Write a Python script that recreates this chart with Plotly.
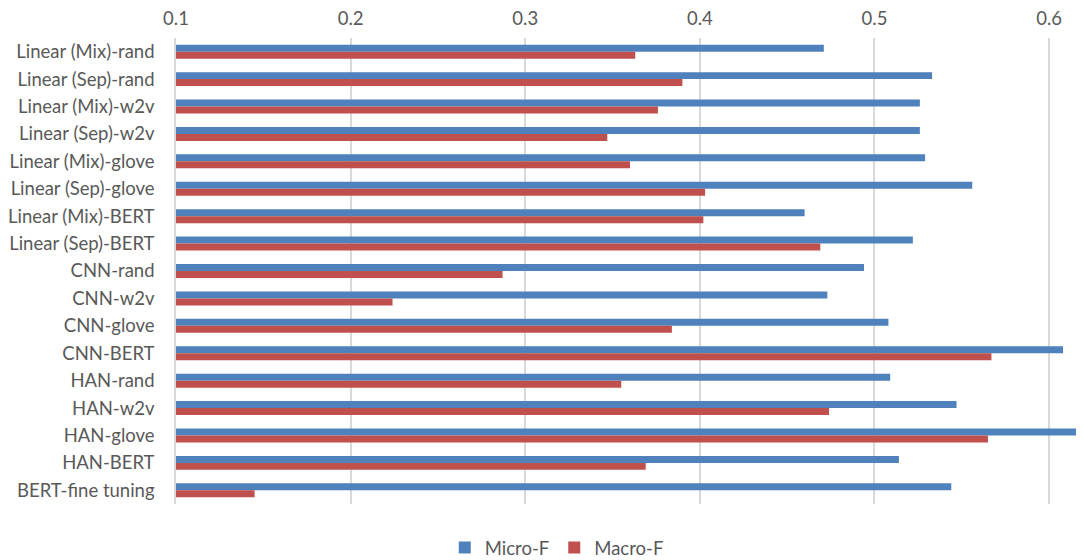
import plotly.graph_objects as go

categories = [
    "Linear (Mix)-rand", "Linear (Sep)-rand", "Linear (Mix)-w2v", "Linear (Sep)-w2v",
    "Linear (Mix)-glove", "Linear (Sep)-glove", "Linear (Mix)-BERT", "Linear (Sep)-BERT",
    "CNN-rand", "CNN-w2v", "CNN-glove", "CNN-BERT",
    "HAN-rand", "HAN-w2v", "HAN-glove", "HAN-BERT", "BERT-fine tuning",
]
micro_f = [0.471, 0.533, 0.526, 0.526, 0.529, 0.556, 0.460, 0.522,
           0.494, 0.473, 0.508, 0.608, 0.509, 0.547, 0.618, 0.514, 0.544]
macro_f = [0.363, 0.390, 0.376, 0.347, 0.360, 0.403, 0.402, 0.469,
           0.287, 0.224, 0.384, 0.567, 0.355, 0.474, 0.565, 0.369, 0.145]
x_ticks = [0.1, 0.2, 0.3, 0.4, 0.5, 0.6]

FONT = "Lato, 'Open Sans', sans-serif"
GRAY = "#595959"
FS = 18.5

fig = go.Figure()
fig.add_trace(go.Bar(y=categories, x=micro_f, orientation="h", name="Micro-F",
                     marker=dict(color="#4F81BD", line=dict(width=0))))
fig.add_trace(go.Bar(y=categories, x=macro_f, orientation="h", name="Macro-F",
                     marker=dict(color="#C0504D", line=dict(width=0))))

# page body has an 8px default margin, so the figure is sized to fit inside it
fig.update_layout(
    width=1076, height=552,
    margin=dict(l=168, r=0, t=30, b=56),
    paper_bgcolor="white", plot_bgcolor="white",
    barmode="group", bargap=0.49, bargroupgap=0,
    font=dict(family=FONT, size=FS, color=GRAY),
    legend=dict(orientation="h", xref="container", yref="container",
                x=0.510, y=0.022, xanchor="center", yanchor="middle",
                font=dict(size=FS, color=GRAY), traceorder="normal"),
    xaxis=dict(side="top", range=[0.1, 0.62], tickvals=x_ticks,
               ticktext=[f"{v:.1f}" for v in x_ticks],
               showgrid=True, gridcolor="#d9d9d9", gridwidth=1.5,
               zeroline=False, showline=False,
               ticks="outside", ticklen=5, tickcolor="rgba(0,0,0,0)",
               tickfont=dict(size=FS, color=GRAY)),
    yaxis=dict(autorange="reversed", showgrid=False, zeroline=False,
               showline=True, linecolor="#d9d9d9", linewidth=1.5,
               ticks="outside", ticklen=16, tickcolor="rgba(0,0,0,0)",
               tickfont=dict(size=FS, color=GRAY)),
)

fig.write_html("out.html")
